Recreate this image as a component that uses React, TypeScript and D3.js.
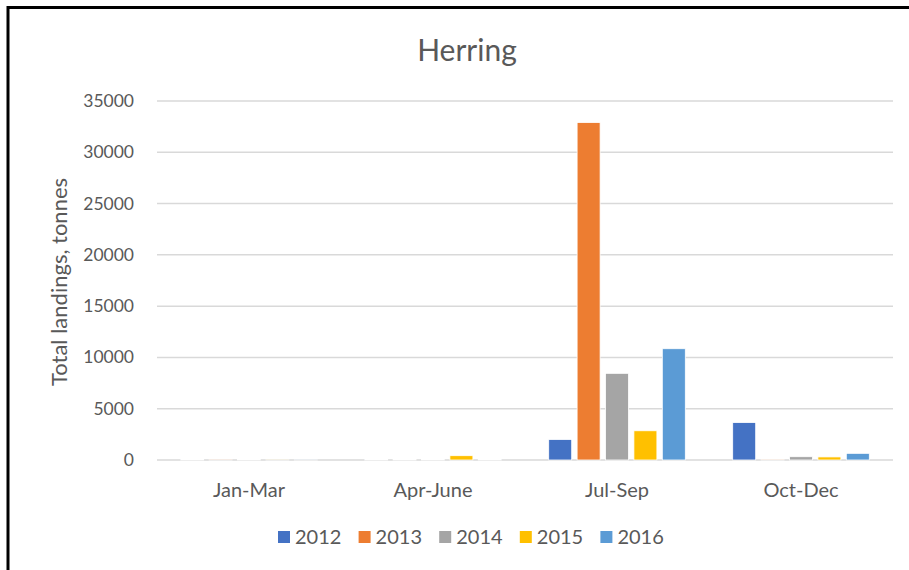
import React from "react";
import * as d3 from "d3";

const categories = ["Jan-Mar", "Apr-June", "Jul-Sep", "Oct-Dec"];
const years = ["2012", "2013", "2014", "2015", "2016"];
const colors = ["#4472C4", "#ED7D31", "#A5A5A5", "#FFC000", "#5B9BD5"];
const v2012 = [40, 50, 2000, 3650];
const v2013 = [20, 40, 32900, 30];
const v2014 = [40, 50, 8450, 320];
const v2015 = [10, 420, 2850, 300];
const v2016 = [10, 60, 10850, 650];
const series = [v2012, v2013, v2014, v2015, v2016];
const yTicks = [0, 5000, 10000, 15000, 20000, 25000, 30000, 35000];

const W = 909, H = 570;
const font = "Lato, 'Open Sans', sans-serif";
const textColor = "#595959";

export default function App() {
  const x = d3.scaleBand().domain(categories).range([157, 893]);
  const y = d3.scaleLinear().domain([0, 35000]).range([460, 101]);
  const slot = 28.4;
  const bw = 23;
  return (
    <div style={{ position: "absolute", left: 0, top: 0 }}>
      <svg width={W} height={H} style={{ display: "block" }}>
        <rect x={0} y={0} width={W} height={H} fill="#fff" />
        <path d={`M8,${H + 5} V7.5 H${W + 5}`} fill="none" stroke="#000" strokeWidth={3} />
        <text x={467} y={61} textAnchor="middle" fontFamily={font} fontSize={30} fill={textColor}>Herring</text>
        {yTicks.map((t) => (
          <g key={t}>
            <line x1={157} x2={893} y1={y(t)} y2={y(t)} stroke="#D9D9D9" strokeWidth={1.5} />
            <text x={134} y={y(t) + 6} textAnchor="end" fontFamily={font} fontSize={17.5} fill={textColor}>{t}</text>
          </g>
        ))}
        <text transform="translate(67,282) rotate(-90)" textAnchor="middle" fontFamily={font} fontSize={22} fill={textColor}>Total landings, tonnes</text>
        {series.map((vals, si) =>
          vals.map((v, ci) => {
            const cx = (x(categories[ci]) as number) + x.bandwidth() / 2 + (si - 2) * slot;
            return (
              <rect key={si + "-" + ci} x={cx - bw / 2} y={y(v)} width={bw} height={y(0) - y(v)} fill={colors[si]} stroke="#fff" strokeWidth={0.8} />
            );
          })
        )}
        {categories.map((c) => (
          <text key={c} x={(x(c) as number) + x.bandwidth() / 2} y={497} textAnchor="middle" fontFamily={font} fontSize={20} fill={textColor}>{c}</text>
        ))}
        {years.map((yr, i) => {
          const lx = 278 + i * 80.6;
          return (
            <g key={yr}>
              <rect x={lx} y={531} width={12} height={12} fill={colors[i]} />
              <text x={lx + 17} y={544} fontFamily={font} fontSize={20} fill={textColor}>{yr}</text>
            </g>
          );
        })}
      </svg>
    </div>
  );
}
